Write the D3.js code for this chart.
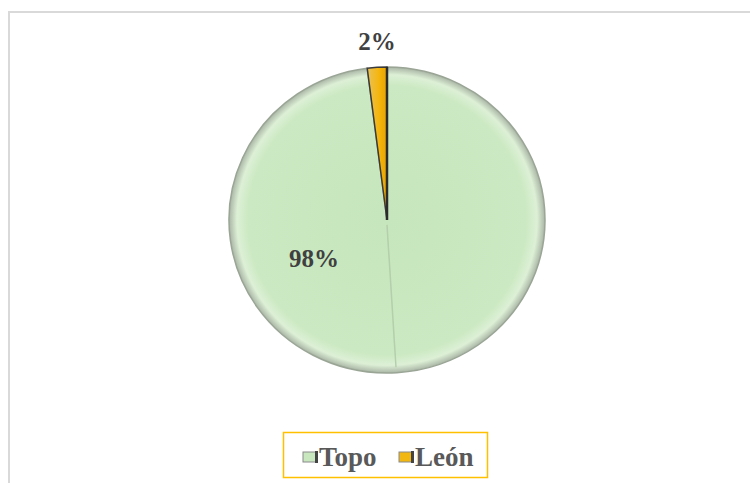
<!DOCTYPE html>
<html>
<head>
<meta charset="utf-8">
<script src="https://cdn.jsdelivr.net/npm/d3@7"></script>
<style>
  body { margin: 0; background: #fff; }
</style>
</head>
<body>
<script>
// constants
const w = 750;
const h = 483;

// data
const categories = ["Topo", "León"];
const values = [98, 2];
const labels = ["98%", "2%"];
const colors = ["#c8e7bf", "#f2b711"];

const cx = 387, cy = 220, rx = 158, ry = 153;

const svg = d3.select("body")
  .append("svg")
  .attr("width", w)
  .attr("height", h);

const defs = svg.append("defs");
const g1 = defs.append("radialGradient").attr("id", "gTopo");
g1.append("stop").attr("offset", "0%").attr("stop-color", "#c6e6bd");
g1.append("stop").attr("offset", "88%").attr("stop-color", "#cbe9c2");
g1.append("stop").attr("offset", "95%").attr("stop-color", "#ddf0d6");
g1.append("stop").attr("offset", "100%").attr("stop-color", "#a9b5a5");
const g2 = defs.append("linearGradient").attr("id", "gLeon");
g2.append("stop").attr("offset", "0%").attr("stop-color", "#e8c25a");
g2.append("stop").attr("offset", "60%").attr("stop-color", "#f5b50c");
g2.append("stop").attr("offset", "100%").attr("stop-color", "#e6a400");

// frame
svg.append("path")
  .attr("d", "M9,483 V12 H750")
  .attr("fill", "none")
  .attr("stroke", "#d9d9d9")
  .attr("stroke-width", 2);

// pie
const pie = d3.pie().sort(null).value(d => d);
const arcs = pie(values);
const arc = d3.arc().innerRadius(0).outerRadius(rx);

const pg = svg.append("g")
  .attr("transform", `translate(${cx},${cy}) scale(1,${ry / rx})`);

pg.selectAll("path.slice")
  .data(arcs)
  .enter()
  .append("path")
  .attr("class", "slice")
  .attr("d", arc)
  .attr("fill", (d, i) => i === 0 ? "url(#gTopo)" : "url(#gLeon)")
  .attr("stroke", (d, i) => i === 0 ? "#9aa596" : "#3a3a3a")
  .attr("stroke-width", 1.5);

// faint 3D seam down the lower half
pg.append("line")
  .attr("x1", 0).attr("y1", 5)
  .attr("x2", 9).attr("y2", rx - 6)
  .attr("stroke", "#b3cfab")
  .attr("stroke-width", 1.5);

// dark edge on right side of León slice
pg.append("line")
  .attr("x1", 0).attr("y1", 0)
  .attr("x2", 0).attr("y2", -rx)
  .attr("stroke", "#2b2b2b")
  .attr("stroke-width", 2.5);

// labels
svg.append("text")
  .attr("x", 377).attr("y", 50)
  .attr("text-anchor", "middle")
  .attr("font-family", "Liberation Serif, serif")
  .attr("font-weight", "bold")
  .attr("font-size", 25)
  .attr("fill", "#404040")
  .text(labels[1]);

svg.append("text")
  .attr("x", 314).attr("y", 267)
  .attr("text-anchor", "middle")
  .attr("font-family", "Liberation Serif, serif")
  .attr("font-weight", "bold")
  .attr("font-size", 25)
  .attr("fill", "#404040")
  .text(labels[0]);

// legend
svg.append("rect")
  .attr("x", 283.5).attr("y", 432.5)
  .attr("width", 204).attr("height", 45)
  .attr("fill", "#fff")
  .attr("stroke", "#ffc000")
  .attr("stroke-width", 1.5);

const legendX = [303, 399];
const lg = svg.selectAll("g.leg")
  .data(categories)
  .enter()
  .append("g")
  .attr("class", "leg")
  .attr("transform", (d, i) => `translate(${legendX[i]},455)`);

lg.append("rect")
  .attr("x", 0).attr("y", -3)
  .attr("width", 14).attr("height", 10)
  .attr("fill", (d, i) => colors[i])
  .attr("stroke", "#8a8a8a")
  .attr("stroke-width", 1);

lg.append("rect")
  .attr("x", 12).attr("y", -4)
  .attr("width", 3).attr("height", 12)
  .attr("fill", "#444");

lg.append("text")
  .attr("x", 16).attr("y", 11)
  .attr("font-family", "Liberation Serif, serif")
  .attr("font-weight", "bold")
  .attr("font-size", 27)
  .attr("fill", "#595959")
  .text(d => d);
</script>
</body>
</html>
